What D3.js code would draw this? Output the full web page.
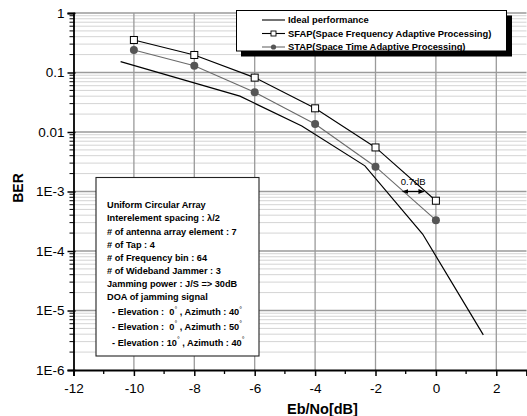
<!DOCTYPE html>
<html><head><meta charset="utf-8">
<script src="https://cdn.jsdelivr.net/npm/d3@7"></script>
<style>
html,body{margin:0;padding:0;background:#fff;overflow:hidden;}
text{font-family:"Liberation Sans",Arial,sans-serif;}
</style></head>
<body>
<svg id="chart" width="527" height="416"></svg>
<script>
// ---- data ----
const sfapX = [-10, -8, -6, -4, -2, 0];
const sfapY = [0.352, 0.197, 0.082, 0.025, 0.0055, 7.0e-4];
const stapX = [-10, -8, -6, -4, -2, 0];
const stapY = [0.239, 0.130, 0.0465, 0.0136, 0.00261, 3.3e-4];
const idealX = [-10.44, -6.49, -4.44, -2.35, -0.44, 1.57];
const idealY = [0.152, 0.040, 0.0126, 0.0027, 1.93e-4, 3.9e-6];
const xTicks = [-12, -10, -8, -6, -4, -2, 0, 2];
const xTickLabels = ["-12", "-10", "-8", "-6", "-4", "-2", "0", "2"];
const yTicks = [1, 0.1, 0.01, 1e-3, 1e-4, 1e-5, 1e-6];
const yTickLabels = ["1", "0.1", "0.01", "1E-3", "1E-4", "1E-5", "1E-6"];
const legendLabels = ["Ideal performance", "SFAP(Space Frequency Adaptive Processing)", "STAP(Space Time Adaptive Processing)"];
const infoLines = ["Uniform Circular Array", "Interelement spacing : \u03bb/2", "# of antenna array element : 7",
  "# of Tap : 4", "# of Frequency bin : 64", "# of Wideband Jammer : 3",
  "Jamming power : J/S => 30dB", "DOA of jamming signal"];
const doaLines = [["  - Elevation :  0", " , Azimuth : 40"], ["  - Elevation :  0", " , Azimuth : 50"], ["  - Elevation : 10", " , Azimuth : 40"]];
const annotation = {x0: -1.1, x1: -0.4, y: 1e-3, label: "0.7dB", labelX: -0.75, labelY: 1.29e-3};

// ---- layout ----
const svg = d3.select("#chart");
const x = d3.scaleLinear().domain([-12, 3]).range([73.5, 526.5]);
const y = d3.scaleLog().domain([1e-6, 1]).range([370, 13]);
const L = 73.5, R = 526.5, T = 13, B = 370;

// minor grid
const minorY = [];
for (let e = -6; e < 0; e++) for (let k = 2; k <= 9; k++) minorY.push(k * Math.pow(10, e));
svg.append("g").selectAll("line").data(minorY).join("line")
  .attr("x1", L).attr("x2", R).attr("y1", d => y(d)).attr("y2", d => y(d))
  .attr("stroke", "#d4d4d4").attr("stroke-width", 1);
svg.append("g").selectAll("line").data(yTicks.slice(0, -1)).join("line")
  .attr("x1", L).attr("x2", R).attr("y1", d => y(d)).attr("y2", d => y(d))
  .attr("stroke", "#9a9a9a").attr("stroke-width", 1.3);
svg.append("g").selectAll("line").data(xTicks.slice(1)).join("line")
  .attr("x1", d => x(d)).attr("x2", d => x(d)).attr("y1", T).attr("y2", B)
  .attr("stroke", "#9a9a9a").attr("stroke-width", 1.3);

// axes
const xAxis = d3.axisBottom(x).tickValues(xTicks).tickSize(6).tickFormat((d, i) => xTickLabels[i]);
const gx = svg.append("g").attr("transform", `translate(0,${B})`).call(xAxis);
gx.select(".domain").attr("stroke", "#000").attr("stroke-width", 1.8);
gx.selectAll(".tick line").attr("stroke", "#000").attr("stroke-width", 1.5);
gx.selectAll(".tick text").attr("font-size", 13.5).attr("fill", "#000").attr("dy", "1.05em").attr("font-family", "Liberation Sans, Arial, sans-serif");
const xMinor = d3.range(-11, 3, 2);
gx.append("g").selectAll("line").data(xMinor).join("line")
  .attr("x1", d => x(d)).attr("x2", d => x(d)).attr("y1", 0).attr("y2", 4)
  .attr("stroke", "#000").attr("stroke-width", 1.3);

const yAxis = d3.axisLeft(y).tickValues(yTicks).tickSize(6).tickFormat((d, i) => yTickLabels[i]);
const gy = svg.append("g").attr("transform", `translate(${L},0)`).call(yAxis);
gy.select(".domain").attr("stroke", "#000").attr("stroke-width", 1.8);
gy.selectAll(".tick line").attr("stroke", "#000").attr("stroke-width", 1.5).attr("x2", -6).attr("x1", 2);
gy.selectAll(".tick text").attr("font-size", 13.5).attr("fill", "#000").attr("x", -9).attr("font-family", "Liberation Sans, Arial, sans-serif");
gy.append("g").selectAll("line").data(minorY).join("line")
  .attr("x1", -4).attr("x2", 1).attr("y1", d => y(d)).attr("y2", d => y(d))
  .attr("stroke", "#000").attr("stroke-width", 1);

// axis titles
svg.append("text").attr("transform", "translate(23,188) rotate(-90)").attr("text-anchor", "middle")
  .attr("font-size", 14).attr("font-weight", "bold").text("BER");
svg.append("text").attr("x", 287).attr("y", 414).attr("font-size", 14.5).attr("font-weight", "bold").text("Eb/No[dB]");

// lines
const line = d3.line().x(d => x(d[0])).y(d => y(d[1]));
svg.append("path").datum(idealX.map((v, i) => [v, idealY[i]])).attr("d", line)
  .attr("fill", "none").attr("stroke", "#000").attr("stroke-width", 1.2);
svg.append("path").datum(stapX.map((v, i) => [v, stapY[i]])).attr("d", line)
  .attr("fill", "none").attr("stroke", "#6a6a6a").attr("stroke-width", 1.1);
svg.append("path").datum(sfapX.map((v, i) => [v, sfapY[i]])).attr("d", line)
  .attr("fill", "none").attr("stroke", "#000").attr("stroke-width", 1.1);

svg.append("g").selectAll("circle").data(stapX.map((v, i) => [v, stapY[i]])).join("circle")
  .attr("cx", d => x(d[0])).attr("cy", d => y(d[1])).attr("r", 4).attr("fill", "#555");
svg.append("g").selectAll("rect").data(sfapX.map((v, i) => [v, sfapY[i]])).join("rect")
  .attr("x", d => x(d[0]) - 3.5).attr("y", d => y(d[1]) - 3.5).attr("width", 7).attr("height", 7)
  .attr("fill", "#fff").attr("stroke", "#000").attr("stroke-width", 1);

// annotation
const defs = svg.append("defs");
defs.append("marker").attr("id", "ah").attr("viewBox", "0 0 10 10").attr("refX", 9).attr("refY", 5)
  .attr("markerWidth", 5).attr("markerHeight", 5).attr("orient", "auto-start-reverse")
  .append("path").attr("d", "M0,1 L10,5 L0,9 Z").attr("fill", "#000");
svg.append("line").attr("x1", x(annotation.x0)).attr("x2", x(annotation.x1))
  .attr("y1", y(annotation.y)).attr("y2", y(annotation.y))
  .attr("stroke", "#000").attr("stroke-width", 1.2)
  .attr("marker-start", "url(#ah)").attr("marker-end", "url(#ah)");
svg.append("text").attr("x", x(annotation.labelX)).attr("y", y(annotation.labelY)).attr("text-anchor", "middle")
  .attr("font-size", 9.5).text(annotation.label);

// legend
const lg = svg.append("g");
lg.append("rect").attr("x", 241).attr("y", 15.5).attr("width", 271).attr("height", 41).attr("fill", "#000");
lg.append("rect").attr("x", 236.5).attr("y", 10.5).attr("width", 270).attr("height", 40.5)
  .attr("fill", "#fff").attr("stroke", "#000").attr("stroke-width", 1);
const rowsY = [20, 33.5, 47];
legendLabels.forEach((t, i) => {
  lg.append("line").attr("x1", 262).attr("x2", 285).attr("y1", rowsY[i]).attr("y2", rowsY[i])
    .attr("stroke", i === 2 ? "#6a6a6a" : "#000").attr("stroke-width", 1.1);
  lg.append("text").attr("x", 288).attr("y", rowsY[i] + 3.4).attr("font-size", 9.4)
    .attr("font-weight", "bold").text(t);
});
lg.append("rect").attr("x", 271).attr("y", rowsY[1] - 2.5).attr("width", 5).attr("height", 5)
  .attr("fill", "#fff").attr("stroke", "#000").attr("stroke-width", 0.9);
lg.append("circle").attr("cx", 273.5).attr("cy", rowsY[2]).attr("r", 2.6).attr("fill", "#555");

// info box
const ib = svg.append("g");
ib.append("rect").attr("x", 96).attr("y", 177.5).attr("width", 163).attr("height", 178.5)
  .attr("fill", "#fff").attr("stroke", "#222").attr("stroke-width", 1.1);
const baseY = [208, 221.3, 234.6, 247.8, 260.8, 273.8, 286.6, 299.8];
infoLines.forEach((t, i) => {
  ib.append("text").attr("x", 107).attr("y", baseY[i]).attr("font-size", 9.2).attr("font-weight", "bold").text(t);
});
const doaY = [315, 329.5, 345.5];
doaLines.forEach((parts, i) => {
  const t = ib.append("text").attr("x", 107).attr("y", doaY[i]).attr("font-size", 9.2)
    .attr("font-weight", "bold").style("white-space", "pre");
  t.append("tspan").text(parts[0]);
  t.append("tspan").attr("dy", -3.5).attr("font-size", 7).attr("font-weight", "normal").text("\u00b0");
  t.append("tspan").attr("dy", 3.5).text(parts[1]);
  t.append("tspan").attr("dy", -3.5).attr("font-size", 7).attr("font-weight", "normal").text("\u00b0");
});
</script>
</body></html>
